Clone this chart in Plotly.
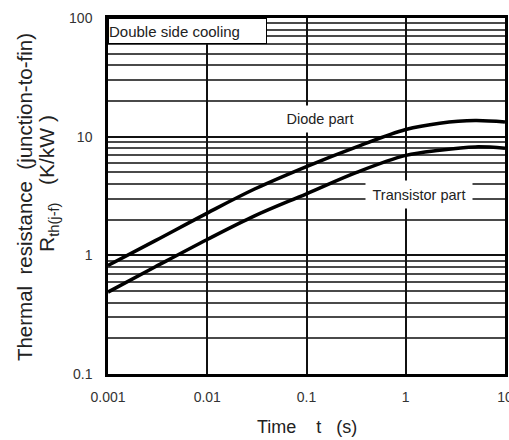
import plotly.graph_objects as go

# ---- data ----
time_s = [0.001, 0.003, 0.01, 0.03, 0.1, 0.32, 1.0, 2.2, 5.0, 10.0]
diode_rth = [0.82, 1.33, 2.27, 3.62, 5.6, 8.2, 11.5, 13.0, 13.7, 13.3]
transistor_rth = [0.49, 0.80, 1.36, 2.15, 3.3, 5.0, 6.95, 7.7, 8.2, 8.0]

x_tickvals = [0.001, 0.01, 0.1, 1, 10]
x_ticktext = ["0.001", "0.01", "0.1", "1", "10"]
y_tickvals = [0.1, 1, 10, 100]
y_ticktext = ["0.1", "1", "10", "100"]
y_minor_decades = [0.1, 1, 10]
y_minor_digits = [2, 3, 4, 5, 6, 7, 8, 9]
y_minor_vals = [d * m for d in y_minor_decades for m in y_minor_digits]

FONT = "Liberation Sans, Arial, sans-serif"
NB = "\u00a0"

fig = go.Figure()
fig.add_trace(go.Scatter(x=time_s, y=diode_rth, mode="lines",
                         line=dict(color="black", width=3.5, shape="spline", smoothing=1.0),
                         name="Diode part", showlegend=False))
fig.add_trace(go.Scatter(x=time_s, y=transistor_rth, mode="lines",
                         line=dict(color="black", width=3.5, shape="spline", smoothing=1.0),
                         name="Transistor part", showlegend=False))

fig.update_layout(
    width=509, height=440,
    margin=dict(l=108, r=4, t=18, b=66),
    paper_bgcolor="white", plot_bgcolor="white",
    font=dict(family=FONT, color="#222"),
    showlegend=False,
    xaxis=dict(type="log", range=[-3, 1], tickmode="array", tickvals=x_tickvals,
               ticktext=x_ticktext, showgrid=True, gridcolor="#111", gridwidth=2,
               showline=True, linecolor="black", linewidth=2.5, mirror=True,
               ticks="", ticklabelstandoff=8, tickfont=dict(size=14, color="#333"),
               ticklabeloverflow="allow",
               zeroline=False, automargin=False, layer="below traces"),
    yaxis=dict(type="log", range=[-1, 2], tickmode="array", tickvals=y_tickvals,
               ticktext=y_ticktext, showgrid=True, gridcolor="#111", gridwidth=2,
               minor=dict(tickmode="array", tickvals=y_minor_vals, showgrid=True,
                          gridcolor="#4a4a4a", gridwidth=1.6, ticks=""),
               showline=True, linecolor="black", linewidth=2.5, mirror=True,
               ticks="", ticklabelstandoff=10, tickfont=dict(size=14, color="#333"),
               ticklabeloverflow="allow",
               zeroline=False, automargin=False, layer="below traces"),
)

# box label top-left
fig.add_annotation(xref="paper", yref="paper", x=0, y=1, xanchor="left", yanchor="top",
                   text="Double side cooling", showarrow=False, align="left",
                   font=dict(size=15, color="#222", family=FONT),
                   bgcolor="white", bordercolor="black", borderwidth=1, borderpad=0,
                   width=157, height=24)

# curve labels (white background hides grid behind)
fig.add_annotation(x=-0.862, y=1.146, xref="x", yref="y", text="Diode part",
                   showarrow=False, font=dict(size=14.5, color="#222", family=FONT),
                   bgcolor="white", borderpad=0, width=76, height=26)
fig.add_annotation(x=0.133, y=0.514, xref="x", yref="y", text="Transistor part",
                   showarrow=False, font=dict(size=14.5, color="#222", family=FONT),
                   bgcolor="white", borderpad=0, width=106, height=27)

# axis titles
fig.add_annotation(xref="paper", yref="paper", x=0.5, y=-0.1475, xanchor="center", yanchor="middle",
                   text="Time" + NB * 4 + "t" + NB * 3 + "(s)", showarrow=False,
                   font=dict(size=18, color="#222", family=FONT))
fig.add_annotation(xref="paper", yref="paper", x=-0.2116, y=0.497, xanchor="center", yanchor="middle",
                   text="Thermal" + NB * 2 + "resistance" + NB * 2 + "(junction-to-fin)",
                   textangle=-90, showarrow=False,
                   font=dict(size=20.5, color="#222", family=FONT))
fig.add_annotation(xref="paper", yref="paper", x=-0.151, y=0.534, xanchor="center", yanchor="middle",
                   text="R<sub>th(j-f)</sub>" + NB * 3 + "(K/kW" + NB + ")", textangle=-90, showarrow=False,
                   font=dict(size=21, color="#222", family=FONT))

fig.write_html("out.html", config={"displayModeBar": False},
               post_script="document.body.style.margin='0';document.body.style.overflow='hidden';")
